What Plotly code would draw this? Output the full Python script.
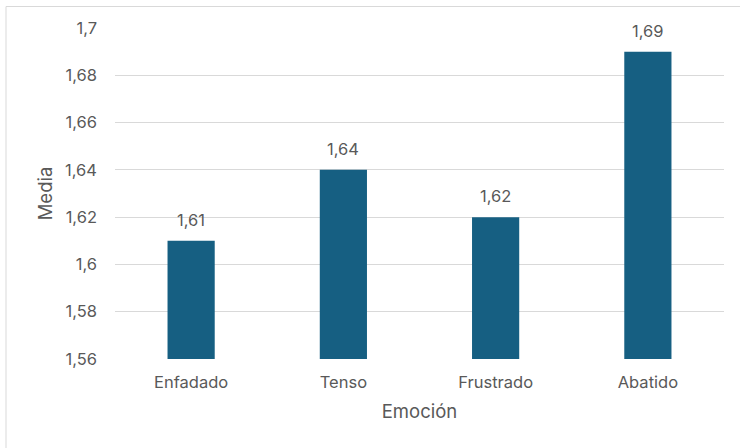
import plotly.graph_objects as go

categories = ["Enfadado", "Tenso", "Frustrado", "Abatido"]
values = [1.61, 1.64, 1.62, 1.69]
tick_vals = [1.56, 1.58, 1.60, 1.62, 1.64, 1.66, 1.68, 1.70]
tick_text = ["1,56", "1,58", "1,6", "1,62", "1,64", "1,66", "1,68", "1,7"]
value_labels = ["1,61", "1,64", "1,62", "1,69"]
baseline = 1.56

W, H = 740, 448
ml, mr, mt, mb = 115, 16, 28, 89
pw, ph = W - ml - mr, H - mt - mb
txt = "#595959"
font = "Inter, Roboto, Open Sans, sans-serif"

fig = go.Figure()
fig.add_trace(go.Bar(x=categories, y=[v - baseline for v in values], base=baseline,
                     marker=dict(color="#165f82", line=dict(width=0)), hoverinfo="skip"))

for c, v, t in zip(categories, values, value_labels):
    fig.add_annotation(x=c, y=v, text=t, showarrow=False, yanchor="bottom", yshift=9,
                       font=dict(size=16.5, color=txt, family=font))

fig.add_shape(type="rect", xref="paper", yref="paper",
              x0=(6 - ml) / pw, x1=(W + 20 - ml) / pw,
              y0=-(H + 20 - mt - ph) / ph, y1=1 + (mt - 6.5) / ph,
              line=dict(color="#d9d9d9", width=1), layer="below")

fig.update_layout(
    width=W, height=H, margin=dict(l=ml, r=mr, t=mt, b=mb),
    paper_bgcolor="white", plot_bgcolor="white",
    bargap=0.69, showlegend=False,
    font=dict(family=font, color=txt, size=16.5),
    xaxis=dict(title=dict(text="Emoción", font=dict(size=18.5, color=txt), standoff=14),
               tickfont=dict(size=16.5, color=txt), showgrid=False, showline=False,
               ticks="", ticklabelstandoff=11),
    yaxis=dict(title=dict(text="Media", font=dict(size=18.5, color=txt), standoff=7),
               range=[1.56, 1.70], tickvals=tick_vals, ticktext=tick_text,
               tickfont=dict(size=16.5, color=txt), showgrid=True, gridcolor="#d9d9d9",
               gridwidth=1, zeroline=False, showline=False, ticks="", ticklabelstandoff=17),
)

fig.write_html("out.html")
